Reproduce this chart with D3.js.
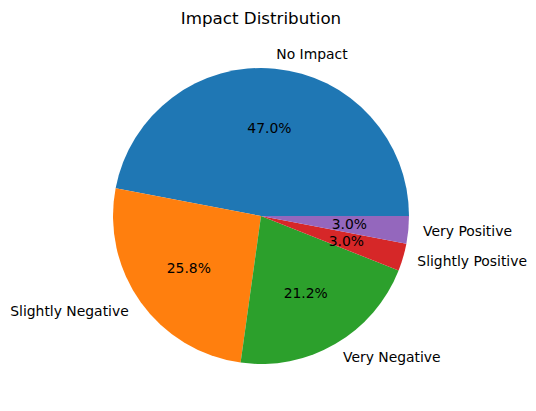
<!DOCTYPE html>
<html>
<head>
<meta charset="utf-8">
<script src="https://cdn.jsdelivr.net/npm/d3@7"></script>
<style>
  body { margin: 0; background: #fff; }
  text { font-family: "DejaVu Sans", sans-serif; fill: #000; }
</style>
</head>
<body>
<div id="chart"></div>
<script>
// Slice data
const labels = ["No Impact", "Slightly Negative", "Very Negative", "Slightly Positive", "Very Positive"];
const values = [47.0, 25.8, 21.2, 3.0, 3.0];
const colors = ["#1f77b4", "#ff7f0e", "#2ca02c", "#d62728", "#9467bd"];

const width = 536, height = 411;
const cx = 261, cy = 216, radius = 148;

const svg = d3.select("#chart")
    .append("svg")
    .attr("width", width)
    .attr("height", height);

// Title
svg.append("text")
    .attr("x", cx)
    .attr("y", 18)
    .attr("text-anchor", "middle")
    .attr("dominant-baseline", "central")
    .style("font-size", "16.7px")
    .text("Impact Distribution");

const g = svg.append("g").attr("transform", `translate(${cx},${cy})`);

// Start at 3 o'clock and go counter-clockwise, like matplotlib
const pie = d3.pie()
    .sort(null)
    .startAngle(Math.PI / 2)
    .endAngle(Math.PI / 2 - 2 * Math.PI);

const arcs = pie(values);
const arc = d3.arc().innerRadius(0).outerRadius(radius);

g.selectAll("path")
    .data(arcs)
    .enter()
    .append("path")
    .attr("d", arc)
    .attr("fill", (d, i) => colors[i]);

const total = d3.sum(values);

// Outer labels
g.selectAll(".label")
    .data(arcs)
    .enter()
    .append("text")
    .attr("class", "label")
    .each(function (d, i) {
        const a = (d.startAngle + d.endAngle) / 2;
        const x = radius * 1.1 * Math.sin(a);
        const y = -radius * 1.1 * Math.cos(a);
        d3.select(this)
            .attr("x", x)
            .attr("y", y)
            .attr("text-anchor", x > 0 ? "start" : "end")
            .attr("dominant-baseline", "central")
            .style("font-size", "13.9px")
            .text(labels[i]);
    });

// Percent labels
g.selectAll(".pct")
    .data(arcs)
    .enter()
    .append("text")
    .attr("class", "pct")
    .each(function (d) {
        const a = (d.startAngle + d.endAngle) / 2;
        d3.select(this)
            .attr("x", radius * 0.6 * Math.sin(a))
            .attr("y", -radius * 0.6 * Math.cos(a))
            .attr("text-anchor", "middle")
            .attr("dominant-baseline", "central")
            .style("font-size", "13.9px")
            .text((d.value / total * 100).toFixed(1) + "%");
    });
</script>
</body>
</html>
